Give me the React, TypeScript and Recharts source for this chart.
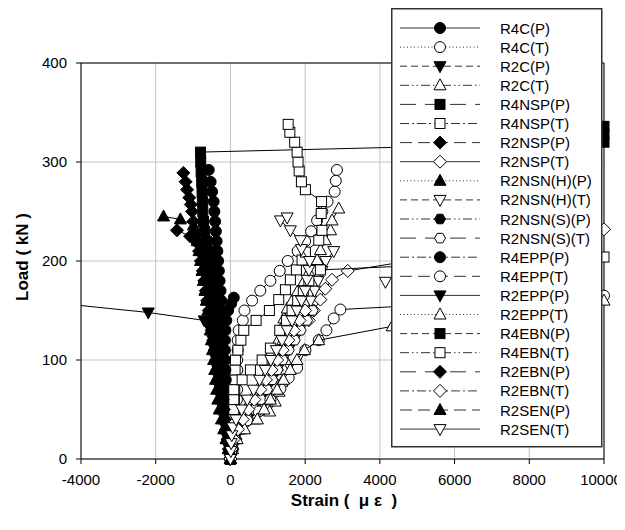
import React from 'react';
import { ScatterChart, Scatter, XAxis, YAxis, CartesianGrid, ReferenceLine, Legend, Label } from 'recharts';

type Pt = [number, number];

const FONT = '"Liberation Sans", Arial, sans-serif';

const xTicks = [-4000, -2000, 0, 2000, 4000, 6000, 8000, 10000];
const yTicks = [0, 100, 200, 300, 400];

// [strain (με), load (kN)]
const r4cP: Pt[] = [[0, 0], [-10, 10], [-25, 20], [-40, 30], [-55, 40], [-70, 50], [-85, 60], [-100, 70], [-115, 80], [-130, 90], [-150, 100], [-165, 110], [-180, 120], [-195, 130], [-210, 140], [-225, 150], [-245, 160], [-265, 170], [-290, 180], [-310, 190], [-330, 200], [-350, 210], [-370, 220], [-390, 230], [-410, 240], [-430, 250], [-450, 260], [-490, 270], [-530, 280], [-580, 292]];
const r4cT: Pt[] = [[0, 0], [60, 10], [110, 20], [140, 30], [160, 40], [170, 50], [175, 60], [180, 70], [180, 80], [185, 90], [180, 100], [195, 110], [195, 120], [220, 130], [330, 140], [375, 150], [580, 160], [800, 170], [1070, 180], [1320, 190], [1535, 200], [1800, 210], [2000, 220], [2160, 230], [2320, 241], [2460, 250], [2600, 260], [2790, 270], [2820, 281], [2850, 292]];
const r2cP: Pt[] = [[0, 0], [-30, 10], [-70, 20], [-110, 30], [-150, 40], [-190, 50], [-230, 60], [-270, 70], [-300, 80], [-340, 90], [-380, 100], [-420, 110], [-470, 120], [-530, 130], [-700, 140], [-2200, 148], [-4000, 155]];
const r2cT: Pt[] = [[0, 0], [40, 10], [120, 20], [280, 30], [650, 40], [1050, 48], [1200, 58], [1300, 68], [1380, 78], [1440, 90], [1480, 100], [1450, 110], [1400, 120], [1350, 131], [1430, 142], [1520, 152], [1650, 160], [1790, 169], [1960, 179], [2100, 189], [2320, 201], [2410, 211], [2540, 221], [2680, 231], [2720, 241], [2900, 253]];
const r4nspP: Pt[] = [[0, 0], [-20, 10], [-45, 20], [-70, 30], [-95, 40], [-120, 50], [-145, 60], [-170, 70], [-195, 80], [-220, 90], [-250, 100], [-275, 110], [-300, 120], [-330, 130], [-360, 140], [-390, 150], [-420, 160], [-450, 170], [-480, 180], [-510, 190], [-550, 200], [-590, 210], [-640, 220], [-690, 230], [-720, 240], [-740, 250], [-750, 260], [-760, 270], [-770, 280], [-785, 290], [-795, 300], [-800, 310], [10000, 320], [10000, 328], [10000, 336]];
const r4nspT: Pt[] = [[0, 0], [20, 10], [40, 20], [60, 30], [80, 40], [95, 50], [105, 60], [115, 70], [120, 80], [125, 90], [134, 100], [200, 110], [280, 120], [357, 130], [687, 140], [1043, 150], [1293, 161], [1472, 171], [1605, 181], [1766, 191], [1918, 201], [2007, 209], [2365, 221], [2450, 231], [2430, 248], [2440, 260], [2007, 272], [1900, 280], [1840, 291], [1810, 300], [1785, 310], [1720, 320], [1590, 330], [1545, 338]];
const r2nspP: Pt[] = [[0, 0], [-40, 10], [-70, 20], [-110, 30], [-150, 40], [-190, 50], [-230, 60], [-270, 70], [-300, 80], [-340, 90], [-380, 100], [-420, 110], [-460, 120], [-500, 130], [-540, 140], [-580, 150], [-620, 160], [-660, 170], [-700, 180], [-740, 190], [-790, 200], [-840, 210], [-890, 220], [-950, 230], [-990, 240], [-1025, 250], [-1060, 257], [-1100, 264], [-1160, 272], [-1200, 280], [-1260, 289]];
const r2nspT: Pt[] = [[0, 0], [40, 10], [80, 20], [130, 28], [180, 36], [357, 44], [535, 53], [714, 61], [937, 70], [1115, 80], [1248, 90], [1338, 100], [1472, 110], [1605, 122], [1785, 130], [2095, 140], [2230, 150], [2408, 161], [2540, 172], [2720, 181], [3140, 190], [10000, 232]];
const r2nsnHP: Pt[] = [[0, 0], [-60, 10], [-120, 20], [-180, 30], [-240, 40], [-300, 50], [-340, 60], [-370, 70], [-400, 80], [-420, 90], [-450, 100], [-480, 110], [-510, 120], [-540, 130], [-570, 140], [-600, 150], [-640, 160], [-680, 170], [-720, 180], [-750, 190], [-780, 200], [-810, 210], [-850, 220]];
const r2nsnHT: Pt[] = [[0, 0], [50, 10], [100, 20], [250, 30], [400, 40], [600, 50], [800, 60], [950, 70], [1100, 80], [1250, 90], [1400, 100], [1550, 110], [1700, 120], [1850, 130], [1950, 140], [2050, 150], [2150, 160], [2250, 170], [2350, 180], [2450, 190], [2550, 200], [2765, 210]];
const r2nsnHTExtra: Pt[] = [[4150, 179]];
const r2nsnSP: Pt[] = [[0, 0], [-35, 10], [-70, 20], [-100, 30], [-130, 40], [-160, 50], [-190, 60], [-220, 70], [-250, 80], [-280, 90], [-310, 100], [-340, 110], [-370, 120], [-400, 130], [-430, 140], [-460, 150]];
const r2nsnST: Pt[] = [[0, 0], [70, 10], [160, 20], [300, 30], [480, 40], [650, 50], [820, 60], [980, 70], [1120, 80], [1260, 90], [1400, 100], [1560, 110], [1720, 120], [1880, 130], [2050, 140], [2200, 150]];
const r4eppP: Pt[] = [[0, 0], [-20, 10], [-40, 20], [-55, 30], [-70, 40], [-85, 50], [-100, 60], [-115, 70], [-125, 80], [-135, 90], [-145, 100], [-150, 110], [-150, 120], [-135, 130], [-110, 140], [-60, 150], [20, 157], [90, 163]];
const r4eppT: Pt[] = [[0, 0], [40, 10], [90, 20], [180, 31], [446, 39], [757, 48], [1070, 60], [1338, 71], [1560, 82], [1785, 92], [2007, 110], [2365, 120], [2570, 130], [2765, 142], [2943, 151], [10000, 165]];
const r2eppP: Pt[] = [[0, 0], [-25, 10], [-50, 20], [-80, 30], [-110, 40], [-140, 50], [-170, 60], [-200, 70], [-230, 80], [-260, 90], [-290, 100], [-320, 110], [-350, 120], [-380, 130], [-410, 140], [-440, 150], [-470, 160]];
const r2eppT: Pt[] = [[0, 0], [60, 10], [180, 20], [380, 30], [720, 40], [900, 50], [1070, 60], [1250, 70], [1420, 80], [1600, 90], [1780, 100], [1980, 110], [2365, 120], [4330, 134], [10000, 160]];
const r4ebnP: Pt[] = [[0, 0], [-15, 10], [-35, 20], [-55, 30], [-75, 40], [-100, 50], [-125, 60], [-150, 70], [-175, 80], [-200, 90], [-225, 100], [-250, 110], [-280, 120], [-310, 130], [-340, 140], [-370, 150], [-400, 160], [-430, 170], [-460, 180], [-500, 190], [-540, 200]];
const r4ebnT: Pt[] = [[0, 0], [30, 10], [50, 20], [70, 30], [90, 40], [90, 50], [90, 60], [90, 70], [313, 80], [535, 90], [848, 100], [1070, 112], [1320, 130], [1500, 140], [1650, 150], [1800, 160], [1950, 170], [2100, 180], [2408, 191], [10000, 204]];
const r2ebnP: Pt[] = [[0, 0], [-35, 10], [-70, 20], [-105, 30], [-140, 40], [-175, 50], [-210, 60], [-245, 70], [-280, 80], [-315, 90], [-350, 100], [-385, 110], [-420, 120], [-455, 130], [-490, 140], [-525, 150], [-560, 160], [-600, 170], [-640, 180], [-680, 190], [-730, 200], [-780, 210], [-880, 218], [-1080, 225], [-1430, 231]];
const r2ebnT: Pt[] = [[0, 0], [30, 10], [90, 20], [200, 30], [330, 40], [480, 50], [640, 60], [800, 70], [950, 80], [1100, 90], [1250, 100], [1400, 110], [1550, 120], [1700, 130], [1850, 140], [2000, 150]];
const r2senP: Pt[] = [[0, 0], [-40, 10], [-80, 20], [-120, 30], [-160, 40], [-200, 50], [-240, 60], [-280, 70], [-320, 80], [-360, 90], [-400, 100], [-440, 110], [-480, 120], [-520, 130], [-560, 140], [-600, 150], [-640, 160], [-680, 170], [-720, 180], [-760, 190], [-800, 200], [-840, 210], [-890, 220], [-940, 230], [-990, 236], [-1340, 242], [-1790, 245]];
const r2senT: Pt[] = [[0, 0], [10, 8], [20, 16], [35, 24], [60, 32], [150, 40], [300, 50], [450, 60], [620, 70], [780, 80], [930, 90], [1080, 100], [1230, 110], [1380, 120], [1520, 130], [1650, 140], [1780, 150], [1900, 160], [2000, 170], [2050, 181], [2100, 191], [2120, 200], [1900, 212], [1873, 221], [1605, 231], [1338, 241], [1517, 244]];

type Kind = 'circle' | 'square' | 'diamond' | 'triUp' | 'triDown' | 'hexagon';
type Dash = 'solid' | 'dot' | 'dash' | 'dashDotDot' | 'longDash' | 'dashDot' | 'medDash';

const dashes: Record<Dash, string | undefined> = {
  solid: undefined,
  dot: '1 2.5',
  dash: '7 4',
  dashDotDot: '9 3 1.5 3 1.5 3',
  longDash: '16 9',
  dashDot: '9 3 2 3',
  medDash: '12 6',
};

const series: { name: string; data: Pt[]; kind: Kind; filled: boolean; dash: Dash }[] = [
  { name: 'R4C(P)', data: r4cP, kind: 'circle', filled: true, dash: 'solid' },
  { name: 'R4C(T)', data: r4cT, kind: 'circle', filled: false, dash: 'dot' },
  { name: 'R2C(P)', data: r2cP, kind: 'triDown', filled: true, dash: 'dash' },
  { name: 'R2C(T)', data: r2cT, kind: 'triUp', filled: false, dash: 'dashDotDot' },
  { name: 'R4NSP(P)', data: r4nspP, kind: 'square', filled: true, dash: 'longDash' },
  { name: 'R4NSP(T)', data: r4nspT, kind: 'square', filled: false, dash: 'dashDot' },
  { name: 'R2NSP(P)', data: r2nspP, kind: 'diamond', filled: true, dash: 'medDash' },
  { name: 'R2NSP(T)', data: r2nspT, kind: 'diamond', filled: false, dash: 'solid' },
  { name: 'R2NSN(H)(P)', data: r2nsnHP, kind: 'triUp', filled: true, dash: 'dot' },
  { name: 'R2NSN(H)(T)', data: r2nsnHT, kind: 'triDown', filled: false, dash: 'dash' },
  { name: 'R2NSN(S)(P)', data: r2nsnSP, kind: 'hexagon', filled: true, dash: 'dashDotDot' },
  { name: 'R2NSN(S)(T)', data: r2nsnST, kind: 'hexagon', filled: false, dash: 'longDash' },
  { name: 'R4EPP(P)', data: r4eppP, kind: 'circle', filled: true, dash: 'dashDot' },
  { name: 'R4EPP(T)', data: r4eppT, kind: 'circle', filled: false, dash: 'medDash' },
  { name: 'R2EPP(P)', data: r2eppP, kind: 'triDown', filled: true, dash: 'solid' },
  { name: 'R2EPP(T)', data: r2eppT, kind: 'triUp', filled: false, dash: 'dot' },
  { name: 'R4EBN(P)', data: r4ebnP, kind: 'square', filled: true, dash: 'dash' },
  { name: 'R4EBN(T)', data: r4ebnT, kind: 'square', filled: false, dash: 'dashDotDot' },
  { name: 'R2EBN(P)', data: r2ebnP, kind: 'diamond', filled: true, dash: 'longDash' },
  { name: 'R2EBN(T)', data: r2ebnT, kind: 'diamond', filled: false, dash: 'dashDot' },
  { name: 'R2SEN(P)', data: r2senP, kind: 'triUp', filled: true, dash: 'medDash' },
  { name: 'R2SEN(T)', data: r2senT, kind: 'triDown', filled: false, dash: 'solid' },
];

const toRows = (pts: Pt[]) => pts.map(([x, y]) => ({ x, y }));

function Glyph({ kind, filled, x, y }: { kind: Kind; filled: boolean; x: number; y: number }) {
  const p = { fill: filled ? '#000' : '#fff', stroke: '#000', strokeWidth: 1 };
  switch (kind) {
    case 'circle':
      return <circle cx={x} cy={y} r={5.5} {...p} />;
    case 'square':
      return <rect x={x - 5} y={y - 5} width={10} height={10} {...p} />;
    case 'diamond':
      return <polygon points={`${x},${y - 6.5} ${x + 6.5},${y} ${x},${y + 6.5} ${x - 6.5},${y}`} {...p} />;
    case 'triUp':
      return <polygon points={`${x},${y - 6.5} ${x + 6},${y + 4.5} ${x - 6},${y + 4.5}`} {...p} />;
    case 'triDown':
      return <polygon points={`${x - 6},${y - 4.5} ${x + 6},${y - 4.5} ${x},${y + 6.5}`} {...p} />;
    default: {
      const r = 5.5;
      const pts = [0, 1, 2, 3, 4, 5]
        .map((i) => {
          const a = (Math.PI / 3) * i;
          return `${x + r * Math.cos(a)},${y + r * Math.sin(a)}`;
        })
        .join(' ');
      return <polygon points={pts} {...p} />;
    }
  }
}

// x tick labels; the last one is nudged so it stays inside the window
const XTick = (props: any) => {
  const { x, y, payload } = props;
  const shift = payload.value === 10000 ? -3 : 0;
  return (
    <text x={x + shift} y={y} dy="0.71em" textAnchor="middle" fontSize={15} fontFamily={FONT} fill="#000">
      {payload.value}
    </text>
  );
};

const renderLegend = () => (
  <svg width={212} height={440} style={{ display: 'block' }}>
    <rect x={0.75} y={0.75} width={210} height={438} fill="#fff" stroke="#333" strokeWidth={1.5} />
    {series.map((s, i) => {
      const cy = 20 + i * 19.1;
      return (
        <g key={s.name}>
          <line x1={9} x2={89} y1={cy} y2={cy} stroke="#333" strokeWidth={1} strokeDasharray={dashes[s.dash]} />
          <Glyph kind={s.kind} filled={s.filled} x={49} y={cy} />
          <text x={109} y={cy + 5.5} fontSize={15} fontFamily={FONT} fill="#000">
            {s.name}
          </text>
        </g>
      );
    })}
  </svg>
);

export default function App() {
  const tick = { fill: '#000', fontSize: 15, fontFamily: FONT };
  return (
    <div>
      <style>{'.recharts-surface{overflow:visible}'}</style>
      <ScatterChart width={617} height={514} margin={{ top: 55, right: 21, bottom: 33, left: 33 }}>
        <CartesianGrid stroke="#c4c4c4" strokeWidth={1} />
        <XAxis
          type="number"
          dataKey="x"
          domain={[-4000, 10000]}
          ticks={xTicks}
          interval={0}
          height={30}
          tick={XTick}
          tickSize={5}
          tickMargin={10}
          axisLine={{ stroke: '#000' }}
          tickLine={{ stroke: '#000' }}
        >
          <Label
            content={() => (
              <text x={336} y={498} textAnchor="middle" fontSize={17} fontWeight="bold" fontFamily={FONT} fill="#000">
                {'Strain (\u00a0\u00a0μ ε\u00a0\u00a0)'}
              </text>
            )}
          />
        </XAxis>
        <YAxis
          type="number"
          dataKey="y"
          domain={[0, 400]}
          ticks={yTicks}
          interval={0}
          width={40}
          tick={tick}
          tickSize={5}
          tickMargin={9}
          axisLine={{ stroke: '#000' }}
          tickLine={{ stroke: '#000' }}
        >
          <Label
            content={() => (
              <text
                x={20}
                y={249}
                transform="rotate(-90, 20, 249)"
                textAnchor="middle"
                fontSize={17}
                fontWeight="bold"
                fontFamily={FONT}
                fill="#000"
              >
                Load ( kN )
              </text>
            )}
          />
        </YAxis>
        <ReferenceLine y={400} stroke="#000" />
        <ReferenceLine x={10000} stroke="#000" />
        {series.map((s) => (
          <Scatter
            key={s.name}
            name={s.name}
            data={toRows(s.data)}
            line={{ stroke: '#000', strokeWidth: 1 }}
            isAnimationActive={false}
            shape={(p: any) =>
              p.payload && p.payload.x <= -4000 ? <g /> : <Glyph kind={s.kind} filled={s.filled} x={p.cx} y={p.cy} />
            }
          />
        ))}
        <Scatter
          name="R2NSN(H)(T) extra"
          data={toRows(r2nsnHTExtra)}
          isAnimationActive={false}
          legendType="none"
          shape={(p: any) => <Glyph kind="triDown" filled={false} x={p.cx} y={p.cy} />}
        />
        <Legend
          content={renderLegend}
          layout="horizontal"
          align="center"
          verticalAlign="middle"
          wrapperStyle={{ top: 0, left: 383, width: 212, height: 440 }}
        />
      </ScatterChart>
    </div>
  );
}
